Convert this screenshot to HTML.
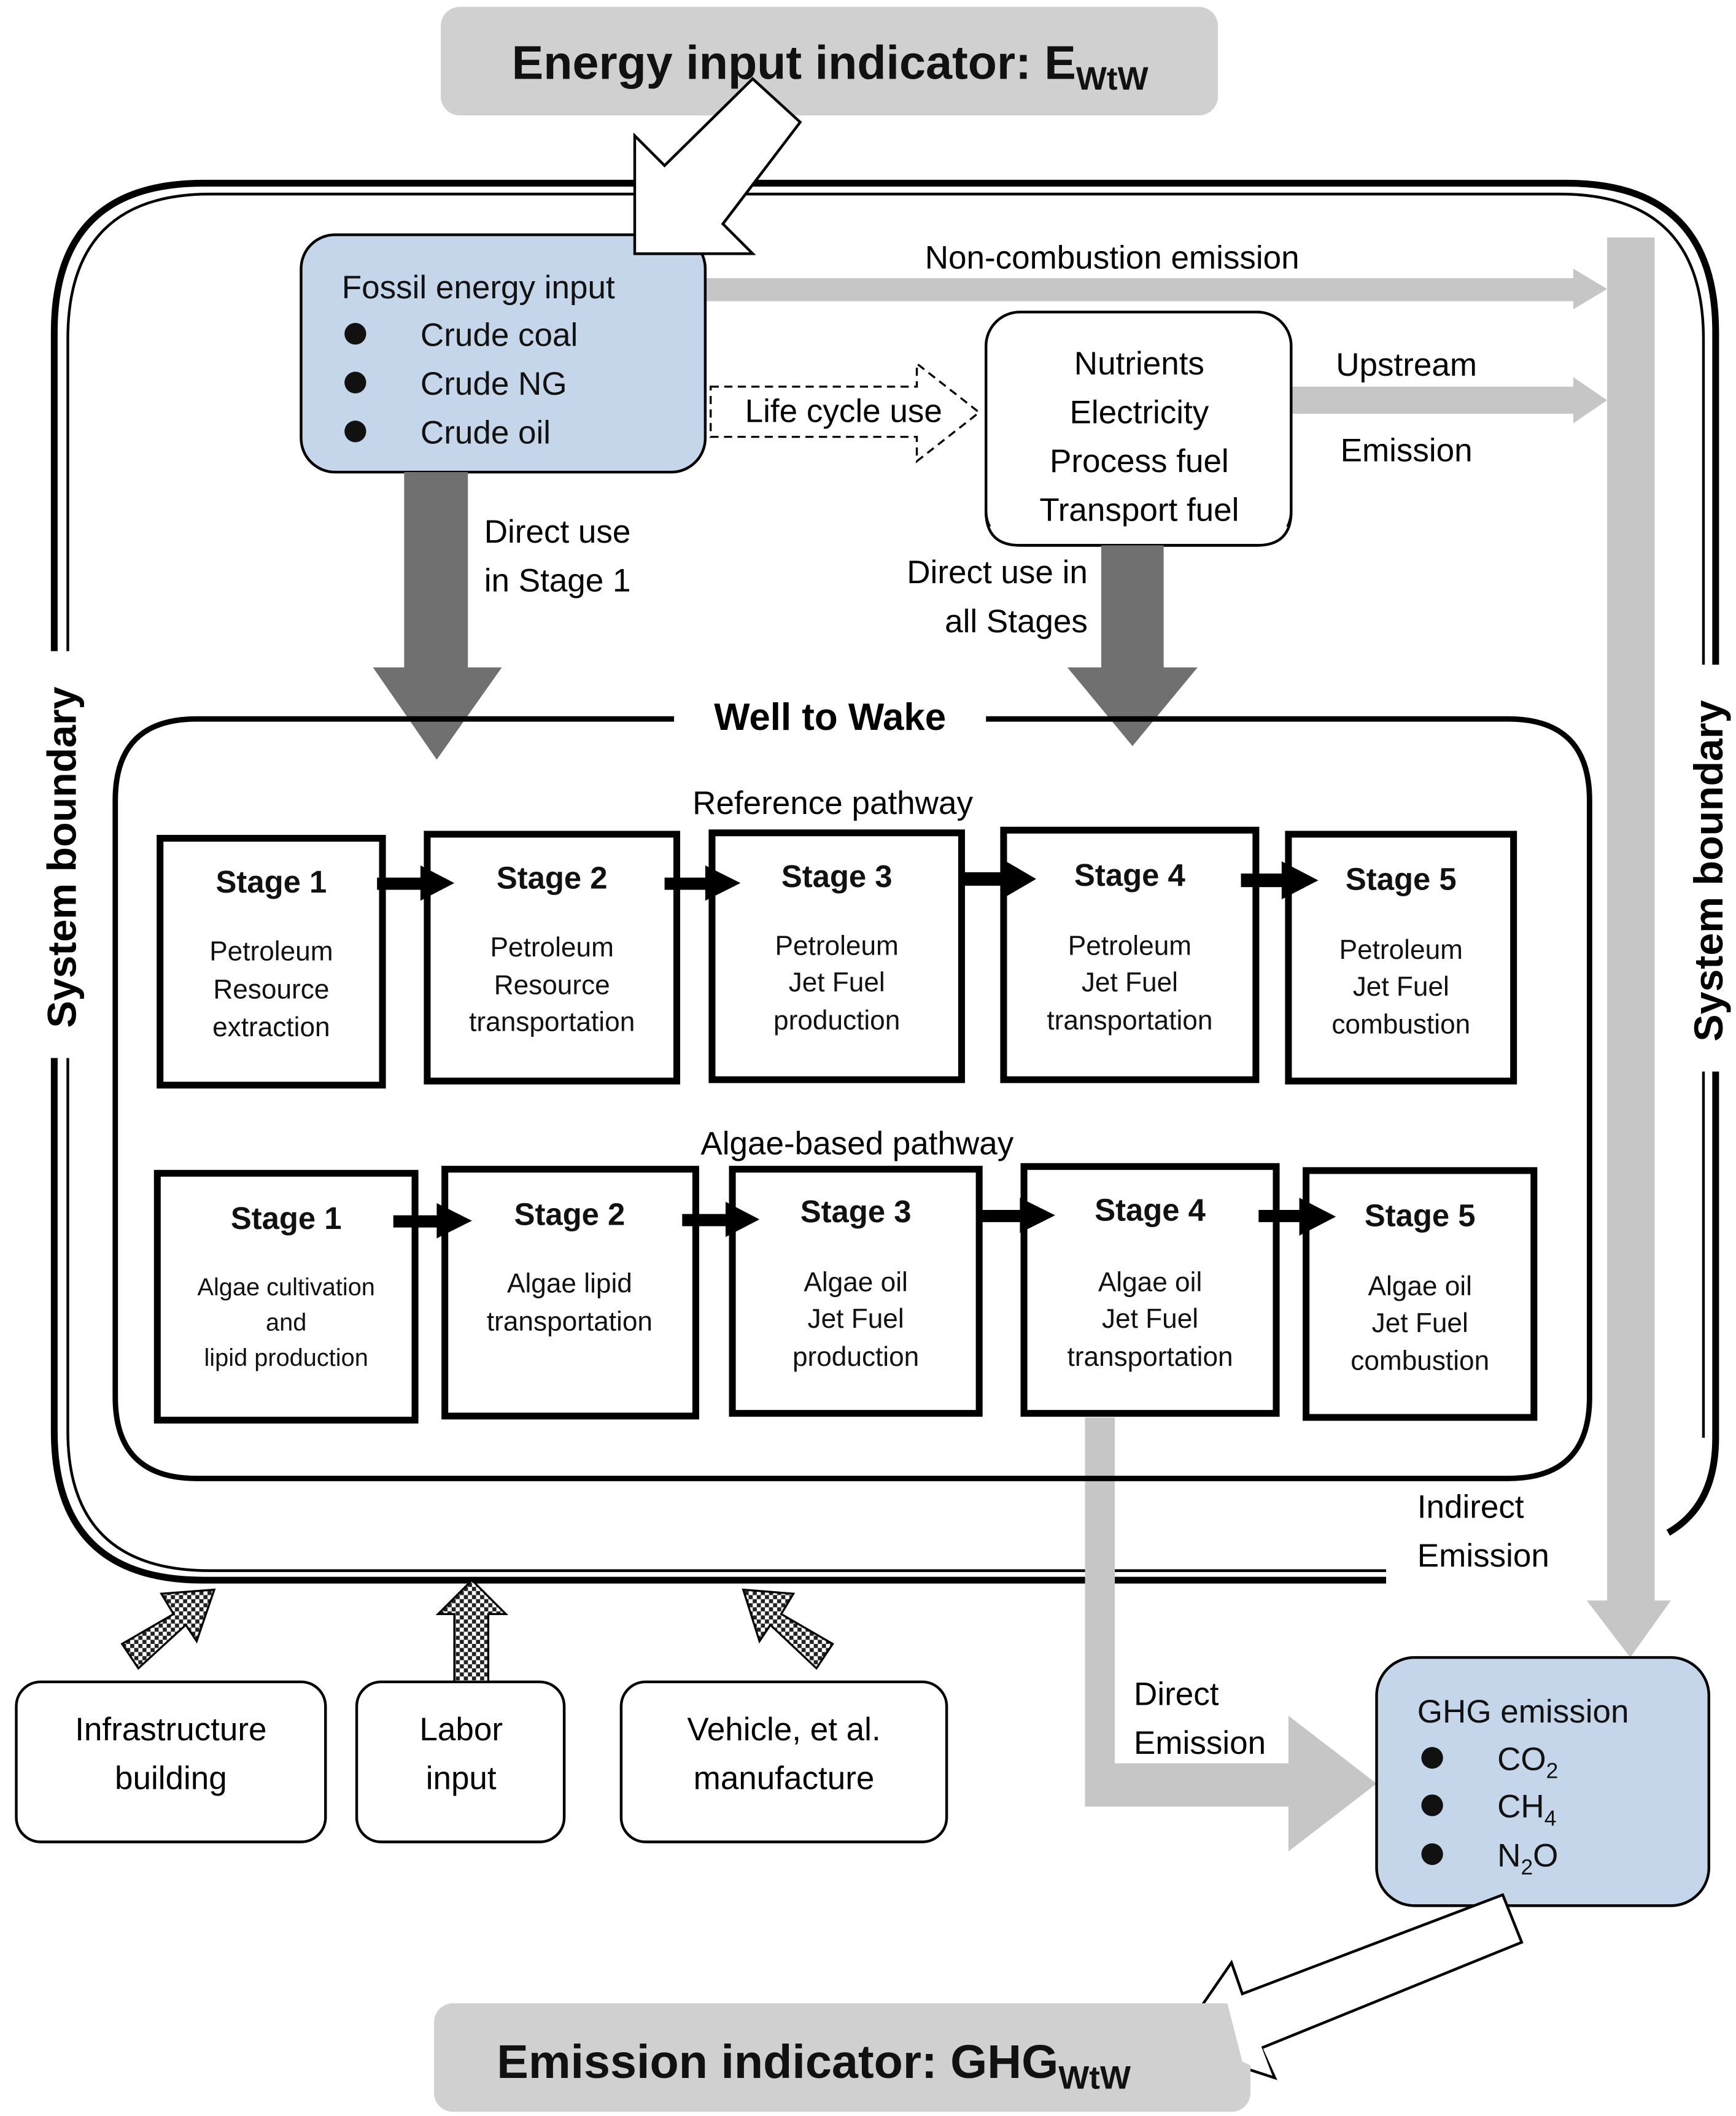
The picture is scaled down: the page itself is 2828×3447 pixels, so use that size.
<!DOCTYPE html>
<html><head><meta charset="utf-8"><style>html,body{margin:0;padding:0;background:#fff}svg{display:block}</style></head><body>
<svg width="2828" height="3447" viewBox="0 0 1280 1560" xmlns="http://www.w3.org/2000/svg" font-family="'Liberation Sans', sans-serif">
<defs>
<pattern id="chk" width="6" height="6" patternUnits="userSpaceOnUse"><rect width="6" height="6" fill="#fff"/><rect width="3" height="3" fill="#222"/><rect x="3" y="3" width="3" height="3" fill="#222"/></pattern>
</defs>
<!-- top title -->
<rect x="325" y="5" width="573" height="80" rx="14" fill="#d0d0d0"/>
<text x="612" y="58" font-size="35" font-weight="bold" text-anchor="middle" fill="#111">Energy input indicator: E<tspan font-size="24" dy="8">WtW</tspan></text>
<!-- system boundary -->
<path d="M1022 1165 H150 Q40 1165 40 1055 V245 Q40 135 150 135 H1155 Q1265 135 1265 245 V1060 Q1265 1110 1230 1130" fill="none" stroke="#000" stroke-width="5"/>
<path d="M1022 1158 H155 Q50 1158 50 1055 V250 Q50 143 155 143 H1150 Q1256 143 1256 250 V1060" fill="none" stroke="#000" stroke-width="2"/>
<rect x="25" y="480" width="45" height="300" fill="#fff"/>
<rect x="1235" y="490" width="45" height="300" fill="#fff"/>
<text transform="translate(56 632) rotate(-90)" font-size="30" font-weight="bold" text-anchor="middle">System boundary</text>
<text transform="translate(1270 642) rotate(-90)" font-size="30" font-weight="bold" text-anchor="middle">System boundary</text>
<!-- gray light arrows -->
<polygon points="520,205 1160,205 1160,198 1185,213 1160,228 1160,222 520,222" fill="#c6c6c6"/>
<polygon points="952,285 1160,285 1160,278 1185,295 1160,312 1160,305 952,305" fill="#c6c6c6"/>
<polygon points="1185,175 1220,175 1220,1180 1232,1180 1202,1222 1170,1180 1185,1180" fill="#c6c6c6"/>
<polygon points="800,1045 822,1045 822,1300 950,1300 950,1265 1015,1315 950,1365 950,1332 800,1332" fill="#c6c6c6"/>
<!-- fossil box -->
<rect x="222" y="173" width="298" height="175" rx="25" fill="#c5d5ea" stroke="#000" stroke-width="2"/>
<g font-size="24" fill="#111"><text x="252" y="220">Fossil energy input</text>
<circle cx="262" cy="246" r="8"/><text x="310" y="255">Crude coal</text>
<circle cx="262" cy="282" r="8"/><text x="310" y="291">Crude NG</text>
<circle cx="262" cy="318" r="8"/><text x="310" y="327">Crude oil</text></g>
<!-- hollow arrow top -->
<polygon points="590,90 555,58 490,122 468,100 468,187 555,187 533,165 " fill="#fff" stroke="#000" stroke-width="2"/>
<text x="820" y="198" font-size="24" text-anchor="middle">Non-combustion emission</text>
<!-- nutrients -->
<rect x="727" y="230" width="225" height="172" rx="25" fill="#fff" stroke="#000" stroke-width="2"/>
<g font-size="24" text-anchor="middle"><text x="840" y="276">Nutrients</text><text x="840" y="312">Electricity</text><text x="840" y="348">Process fuel</text><text x="840" y="384">Transport fuel</text></g>
<rect x="728" y="388" width="223" height="13" fill="#fff"/>
<path d="M727 380 V377 Q727 402 752 402 H927 Q952 402 952 377" fill="none" stroke="#000" stroke-width="2"/>
<text x="1037" y="277" font-size="24" text-anchor="middle">Upstream</text>
<text x="1037" y="340" font-size="24" text-anchor="middle">Emission</text>
<!-- life cycle dashed -->
<polygon points="524,285 676,285 676,268 722,304 676,340 676,322 524,322" fill="#fff" stroke="#000" stroke-width="1.5" stroke-dasharray="6,4"/>
<text x="622" y="311" font-size="24" text-anchor="middle">Life cycle use</text>
<!-- dark arrows -->
<polygon points="298,348 345,348 345,492 370,492 322,560 275,492 298,492" fill="#707070"/>
<polygon points="812,402 858,402 858,492 883,492 835,550 787,492 812,492" fill="#707070"/>
<g font-size="24"><text x="357" y="400">Direct use</text><text x="357" y="436">in Stage 1</text>
<text x="802" y="430" text-anchor="end">Direct use in</text><text x="802" y="466" text-anchor="end">all Stages</text></g>
<!-- well to wake -->
<path d="M497 530 H145 Q85 530 85 590 V1030 Q85 1090 145 1090 H1112 Q1172 1090 1172 1030 V590 Q1172 530 1112 530 H727" fill="none" stroke="#000" stroke-width="4"/>
<text x="612" y="538" font-size="28" font-weight="bold" text-anchor="middle">Well to Wake</text>
<text x="614" y="600" font-size="24" text-anchor="middle">Reference pathway</text>
<text x="632" y="851" font-size="24" text-anchor="middle">Algae-based pathway</text>
<g fill="#fff" stroke="#000" stroke-width="5">
<rect x="118" y="618" width="164" height="182"/><rect x="315" y="615" width="184" height="182"/><rect x="525" y="614" width="184" height="182"/><rect x="740" y="612" width="186" height="184"/><rect x="950" y="615" width="166" height="182"/>
<rect x="116" y="865" width="190" height="182"/><rect x="328" y="862" width="185" height="182"/><rect x="540" y="862" width="182" height="180"/><rect x="755" y="860" width="186" height="182"/><rect x="963" y="863" width="168" height="182"/>
</g>
<g fill="#000"><polygon points="278,647 310,647 310,638 335,651 310,664 310,656 278,656"/>
<polygon points="490,647 520,647 520,638 546,651 520,664 520,656 490,656"/>
<polygon points="708,643 740,643 740,634 764,648 740,662 740,653 708,653"/>
<polygon points="915,644 945,644 945,635 972,649 945,663 945,654 915,654"/>
<polygon points="290,896 322,896 322,887 348,900 322,913 322,905 290,905"/>
<polygon points="503,895 535,895 535,886 560,899 535,912 535,904 503,904"/>
<polygon points="722,892 752,892 752,883 778,896 752,909 752,901 722,901"/>
<polygon points="928,892 958,892 958,883 985,897 958,911 958,901 928,901"/></g>
<g font-size="20" text-anchor="middle" fill="#111">
<text x="200" y="658" font-size="23" font-weight="bold">Stage 1</text><text x="200" y="708">Petroleum</text><text x="200" y="736">Resource</text><text x="200" y="764">extraction</text>
<text x="407" y="655" font-size="23" font-weight="bold">Stage 2</text><text x="407" y="705">Petroleum</text><text x="407" y="733">Resource</text><text x="407" y="760">transportation</text>
<text x="617" y="654" font-size="23" font-weight="bold">Stage 3</text><text x="617" y="704">Petroleum</text><text x="617" y="731">Jet Fuel</text><text x="617" y="759">production</text>
<text x="833" y="653" font-size="23" font-weight="bold">Stage 4</text><text x="833" y="704">Petroleum</text><text x="833" y="731">Jet Fuel</text><text x="833" y="759">transportation</text>
<text x="1033" y="656" font-size="23" font-weight="bold">Stage 5</text><text x="1033" y="707">Petroleum</text><text x="1033" y="734">Jet Fuel</text><text x="1033" y="762">combustion</text>
<text x="211" y="906" font-size="23" font-weight="bold">Stage 1</text><text x="211" y="955" font-size="18">Algae cultivation</text><text x="211" y="981" font-size="18">and</text><text x="211" y="1007" font-size="18">lipid production</text>
<text x="420" y="903" font-size="23" font-weight="bold">Stage 2</text><text x="420" y="953">Algae lipid</text><text x="420" y="981">transportation</text>
<text x="631" y="901" font-size="23" font-weight="bold">Stage 3</text><text x="631" y="952">Algae oil</text><text x="631" y="979">Jet Fuel</text><text x="631" y="1007">production</text>
<text x="848" y="900" font-size="23" font-weight="bold">Stage 4</text><text x="848" y="952">Algae oil</text><text x="848" y="979">Jet Fuel</text><text x="848" y="1007">transportation</text>
<text x="1047" y="904" font-size="23" font-weight="bold">Stage 5</text><text x="1047" y="955">Algae oil</text><text x="1047" y="982">Jet Fuel</text><text x="1047" y="1010">combustion</text>
</g>
<g font-size="24"><text x="1045" y="1119">Indirect</text><text x="1045" y="1155">Emission</text>
<text x="836" y="1257">Direct</text><text x="836" y="1293">Emission</text></g>
<!-- GHG box -->
<rect x="1015" y="1222" width="245" height="183" rx="28" fill="#c5d5ea" stroke="#000" stroke-width="2"/>
<g font-size="24" fill="#111"><text x="1045" y="1270">GHG emission</text>
<circle cx="1056" cy="1296" r="8"/><text x="1104" y="1305">CO<tspan font-size="16" dy="6">2</tspan></text>
<circle cx="1056" cy="1331" r="8"/><text x="1104" y="1340">CH<tspan font-size="16" dy="6">4</tspan></text>
<circle cx="1056" cy="1367" r="8"/><text x="1104" y="1376">N<tspan font-size="16" dy="6">2</tspan><tspan dy="-6">O</tspan></text></g>
<polygon points="1108,1397 1122,1432 930,1510 940,1532 866,1508 908,1447 916,1470" fill="#fff" stroke="#000" stroke-width="2"/>
<!-- bottom title -->
<rect x="320" y="1477" width="602" height="80" rx="14" fill="#d0d0d0"/>
<polygon points="905,1477 918,1477 938,1530 916,1520" fill="#fff"/>
<text x="600" y="1532" font-size="35" font-weight="bold" text-anchor="middle" fill="#111">Emission indicator: GHG<tspan font-size="24" dy="8">WtW</tspan></text>
<!-- bottom boxes -->
<g fill="#fff" stroke="#000" stroke-width="2">
<rect x="12" y="1240" width="228" height="118" rx="18"/><rect x="263" y="1240" width="153" height="118" rx="18"/><rect x="458" y="1240" width="240" height="118" rx="18"/></g>
<g font-size="24" text-anchor="middle"><text x="126" y="1283">Infrastructure</text><text x="126" y="1319">building</text>
<text x="340" y="1283">Labor</text><text x="340" y="1319">input</text>
<text x="578" y="1283">Vehicle, et al.</text><text x="578" y="1319">manufacture</text></g>
<g fill="url(#chk)" stroke="#000" stroke-width="1.5">
<polygon points="90,1212 128,1190 119,1175 158,1172 145,1210 137,1198 102,1230"/>
<polygon points="335,1240 335,1190 323,1190 348,1165 373,1190 360,1190 360,1240"/>
<polygon points="614,1212 576,1190 585,1175 548,1172 560,1210 568,1198 602,1230"/>
</g>
</svg>
</body></html>
